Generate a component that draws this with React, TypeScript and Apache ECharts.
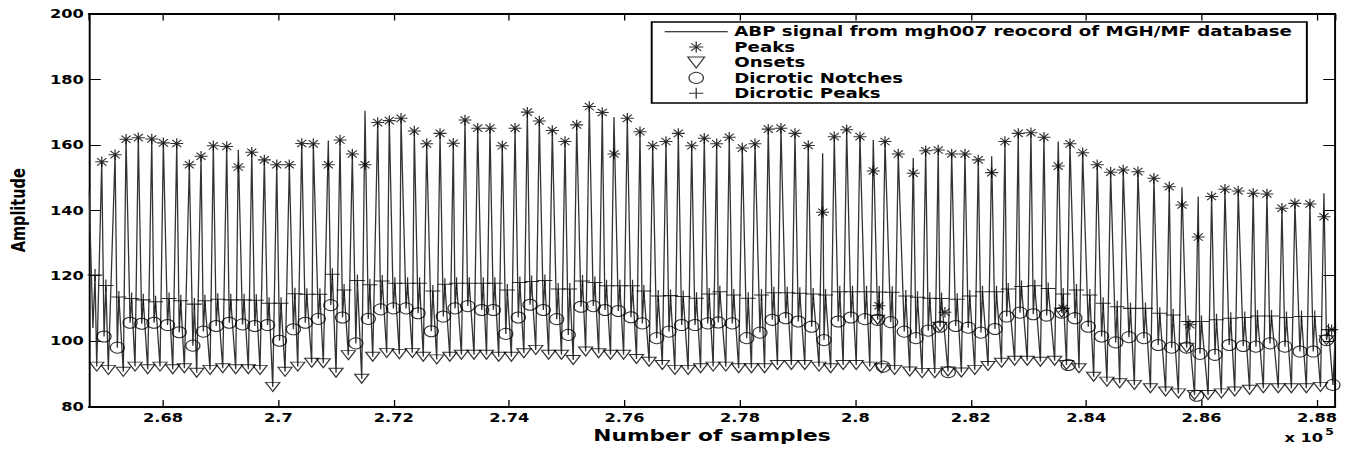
import React, { useEffect, useRef } from "react";
import * as echarts from "echarts";

// ---------------- data (sample index on x, amplitude in mmHg on y) ----------------
const X_MIN = 266718;
const X_MAX = 288312;
const Y_MIN = 80;
const Y_MAX = 200;
const Y_STEP = 20;

const seriesNames = [
  "ABP signal from mgh007 reocord of MGH/MF database",
  "Peaks",
  "Onsets",
  "Dicrotic Notches",
  "Dicrotic Peaks",
];

const onsetSample = [
  266851, 267052, 267312, 267515, 267735, 267948, 268169, 268370, 268584, 268815,
  269035, 269260, 269479, 269681, 269902, 270115, 270335, 270577, 270778, 270999,
  271212, 271444, 271635, 271877, 272096, 272321, 272511, 272744, 272971, 273172,
  273390, 273607, 273818, 274038, 274254, 274460, 274683, 274906, 275110, 275325,
  275551, 275756, 275983, 276206, 276425, 276654, 276871, 277101, 277317, 277535,
  277754, 277977, 278198, 278426, 278649, 278891, 279123, 279370, 279572, 279788,
  280015, 280250, 280451, 280680, 280942, 281156, 281376, 281605, 281837, 282069,
  282299, 282532, 282761, 282979, 283207, 283454, 283659, 283876, 284130, 284360,
  284581, 284835, 285114, 285377, 285598, 285878, 286113, 286343, 286575, 286832,
  287071, 287329, 287557, 287816, 288061,
];
const onsetValue = [
  92.2, 91.2, 90.6, 92.2, 91.4, 92.2, 91.4, 91.7, 90.3, 91.2,
  91.7, 91.4, 91.4, 91.2, 86.0, 90.6, 92.2, 93.4, 93.2, 90.3,
  95.7, 88.5, 95.2, 96.4, 96.0, 96.4, 95.2, 94.4, 95.2, 95.8,
  95.8, 95.8, 95.2, 95.2, 96.3, 97.3, 95.8, 95.8, 94.2, 96.8,
  96.3, 95.8, 95.8, 94.5, 93.7, 92.7, 91.2, 91.2, 91.7, 92.2,
  92.2, 91.7, 91.7, 91.7, 92.7, 92.7, 92.7, 92.2, 91.7, 92.7,
  92.7, 92.2, 91.7, 91.2, 90.7, 90.2, 90.2, 90.7, 90.4, 91.2,
  92.4, 93.4, 94.0, 94.0, 93.7, 94.0, 92.7, 91.7, 89.1, 87.6,
  87.1, 86.6, 85.6, 84.6, 84.0, 83.5, 83.5, 84.0, 84.6, 85.1,
  85.6, 85.6, 85.6, 85.6, 86.0,
];

const peakSample = [
  266938, 267169, 267359, 267572, 267805, 268006, 268238, 268456, 268659, 268872,
  269104, 269305, 269538, 269756, 269971, 270189, 270404, 270605, 270865, 271068,
  271281, 271501, 271721, 271922, 272125, 272355, 272570, 272801, 273031, 273234,
  273454, 273667, 273880, 274101, 274314, 274522, 274747, 274967, 275170, 275388,
  275613, 275816, 276047, 276267, 276487, 276717, 276931, 277163, 277381, 277596,
  277814, 278040, 278260, 278490, 278710, 278953, 279183, 279433, 279634, 279849,
  280079, 280310, 280513, 280743, 281003, 281218, 281436, 281669, 281899, 282130,
  282362, 282592, 282823, 283043, 283268, 283516, 283719, 283939, 284192, 284424,
  284642, 284897, 285174, 285440, 285660, 285942, 286174, 286405, 286635, 286895,
  287133, 287393, 287618, 287878, 288121,
];
// detected peak amplitude (marker)
const peakValue = [
  154.8, 157.0, 161.7, 162.2, 161.8, 160.6, 160.4, 153.9, 156.5, 159.7,
  159.5, 153.2, 157.7, 155.4, 153.9, 153.9, 160.4, 160.3, 153.9, 161.5,
  157.2, 153.9, 166.8, 167.4, 168.1, 164.2, 160.3, 163.5, 160.5, 167.6,
  165.1, 165.1, 159.7, 165.1, 170.0, 167.3, 164.4, 161.0, 166.1, 171.7,
  169.9, 157.2, 168.1, 164.0, 159.7, 161.0, 163.5, 159.7, 162.0, 160.3,
  162.3, 159.0, 160.3, 164.8, 165.1, 163.5, 159.8, 139.4, 162.5, 164.6,
  162.5, 152.0, 161.0, 157.2, 151.3, 158.2, 158.4, 157.2, 157.2, 155.4,
  151.5, 161.0, 163.5, 163.7, 162.3, 153.5, 160.3, 157.6, 153.9, 151.6,
  152.3, 151.8, 149.8, 147.2, 141.6, 131.8, 144.2, 146.4, 145.9, 145.2,
  145.0, 140.6, 142.1, 141.9, 138.0,
];
// true systolic maximum of the signal in each beat
const systolicMax = [
  154.8, 157.0, 161.7, 162.2, 161.8, 160.6, 160.4, 153.9, 156.5, 159.7,
  159.5, 158.5, 157.7, 155.4, 153.9, 153.9, 160.4, 160.3, 161.3, 161.5,
  157.2, 170.4, 166.8, 167.4, 168.1, 164.2, 160.3, 163.5, 160.5, 167.6,
  165.1, 165.1, 159.7, 165.1, 170.0, 167.3, 164.4, 161.0, 166.1, 171.7,
  169.9, 168.5, 168.1, 164.0, 159.7, 161.0, 163.5, 159.7, 162.0, 160.3,
  162.3, 159.0, 160.3, 164.8, 165.1, 163.5, 159.8, 157.4, 162.5, 164.6,
  162.5, 161.5, 161.0, 157.2, 156.0, 158.2, 158.4, 157.2, 157.2, 155.4,
  156.5, 161.0, 163.5, 163.7, 162.3, 161.0, 160.3, 157.6, 153.9, 151.6,
  152.3, 151.8, 149.8, 147.2, 147.0, 144.2, 144.2, 146.4, 145.9, 145.2,
  145.0, 140.6, 142.1, 141.9, 145.2,
];

const notchSample = [
  266978, 267208, 267429, 267631, 267844, 268078, 268281, 268517, 268699, 268922,
  269148, 269378, 269590, 269811, 270019, 270259, 270466, 270692, 270908, 271111,
  271342, 271558, 271773, 271992, 272212, 272420, 272650, 272858, 273061, 273281,
  273524, 273725, 273941, 274158, 274361, 274591, 274823, 275024, 275244, 275458,
  275660, 275891, 276111, 276307, 276556, 276769, 276989, 277220, 277440, 277624,
  277866, 278116, 278346, 278560, 278792, 279010, 279242, 279456, 279703, 279923,
  280166, 280386, 280611, 280847, 281050, 281263, 281466, 281738, 281956, 282176,
  282419, 282622, 282852, 283083, 283315, 283575, 283805, 284036, 284268, 284511,
  284741, 285001, 285249, 285481, 285741, 285972, 286232, 286479, 286722, 286942,
  287185, 287445, 287705, 287935, 288165,
];
const notchValue = [
  101.4, 98.0, 105.6, 105.3, 105.6, 104.9, 102.7, 98.6, 102.9, 104.6,
  105.6, 105.1, 104.6, 104.9, 100.1, 103.6, 105.6, 106.8, 111.0, 107.2,
  99.3, 106.8, 109.7, 110.0, 110.0, 108.5, 103.0, 107.5, 110.0, 110.7,
  109.5, 109.5, 102.2, 107.2, 111.1, 109.5, 106.7, 101.9, 110.5, 110.7,
  109.5, 109.2, 107.3, 105.4, 100.9, 102.9, 104.9, 104.9, 105.4, 105.7,
  105.4, 100.9, 102.6, 106.5, 107.0, 106.0, 104.4, 100.3, 106.0, 107.2,
  106.7, 106.5, 105.8, 102.9, 100.9, 103.2, 104.4, 104.6, 104.1, 102.6,
  103.7, 107.5, 108.7, 108.2, 107.8, 108.7, 107.0, 104.4, 101.4, 99.6,
  101.2, 100.9, 98.8, 98.0, 98.0, 96.1, 95.8, 98.8, 98.5, 98.3,
  99.3, 98.3, 96.8, 96.8, 100.3,
];

const dicroticSample = [
  267010, 267235, 267456, 267658, 267871, 268105, 268308, 268544, 268726, 268949,
  269175, 269405, 269617, 269838, 270046, 270286, 270493, 270719, 270935, 271138,
  271369, 271585, 271800, 272019, 272239, 272447, 272677, 272885, 273088, 273308,
  273551, 273752, 273968, 274185, 274388, 274618, 274850, 275051, 275271, 275485,
  275687, 275918, 276138, 276334, 276583, 276796, 277016, 277247, 277467, 277651,
  277893, 278143, 278373, 278587, 278819, 279037, 279269, 279483, 279730, 279950,
  280193, 280413, 280638, 280874, 281077, 281290, 281493, 281765, 281983, 282203,
  282446, 282649, 282879, 283110, 283342, 283602, 283832, 284063, 284295, 284538,
  284768, 285028, 285276, 285508, 285768, 285999, 286259, 286506, 286749, 286969,
  287212, 287472, 287732, 287962, 288200,
];
const dicroticValue = [
  117.0, 113.5, 113.0, 112.6, 112.0, 113.0, 112.3, 111.3, 112.3, 112.8,
  112.6, 112.6, 112.5, 111.6, 111.6, 114.5, 114.3, 114.3, 120.4, 115.6,
  118.5, 117.2, 118.4, 117.7, 117.7, 117.7, 115.3, 117.4, 117.7, 117.7,
  117.7, 117.7, 115.6, 117.9, 118.2, 118.5, 115.9, 115.9, 118.4, 117.9,
  116.9, 116.9, 116.9, 115.3, 113.8, 113.9, 113.6, 113.1, 114.4, 115.1,
  114.1, 113.1, 114.1, 114.8, 114.8, 114.6, 114.4, 114.1, 115.1, 115.1,
  115.1, 115.0, 114.9, 113.8, 113.4, 113.1, 113.0, 112.8, 113.8, 115.1,
  115.1, 115.9, 116.7, 116.9, 116.1, 114.4, 115.6, 114.1, 111.6, 110.5,
  110.0, 110.0, 108.5, 108.0, 106.0, 106.0, 106.5, 107.0, 107.2, 107.7,
  107.7, 107.2, 107.5, 107.5, 103.5,
];

// partial beat at the left edge, and the tail at the right edge
const leadSignal = [
  [266718, 146.0],
  [266785, 104.0],
];
const leadDicrotic = [266822, 120.2];
const trailSignal = [
  [288277, 86.6],
  [288312, 100.0],
];

// spurious detections (dicrotic wave taken as a beat)
const extraOnsetSample = [280386, 281466, 283575, 285741, 288165];
const extraOnsetValue = [106.5, 104.4, 108.7, 98.0, 100.3];
const extraPeakSample = [280408, 281552, 283600, 285798, 288254];
const extraPeakValue = [110.8, 108.8, 110.0, 105.0, 103.5];
const extraNotchSample = [280483, 281610, 283689, 285914, 288277];
const extraNotchValue = [92.2, 90.5, 92.7, 83.3, 86.6];

// ---------------- layout ----------------
const PAGE_W = 1352;
const PAGE_H = 451;
const STRETCH = 1.3;
const CHART_W = PAGE_W / STRETCH;
const FONT = "DejaVu Sans";

const ASTERISK = "path://M0,5L10,5M5,0L5,10M1.5,1.5L8.5,8.5M8.5,1.5L1.5,8.5";
const PLUS = "path://M0,5L10,5M5,0L5,10";
const DOWN_TRIANGLE = "path://M0,0L10,0L5,8.5Z";
const LINE_ICON = "path://M0,0L48,0L48,1L0,1Z";

const zip = (xs: number[], ys: number[]) => xs.map((x, i) => [x, ys[i]]);

export default function App() {
  const ref = useRef<HTMLDivElement>(null);

  useEffect(() => {
    document.body.style.margin = "0";
    const chart = echarts.init(ref.current as HTMLDivElement, null, { renderer: "svg" });

    const signal: number[][] = [...leadSignal, leadDicrotic];
    for (let i = 0; i < onsetSample.length; i++) {
      signal.push(
        [onsetSample[i], onsetValue[i]],
        [peakSample[i], systolicMax[i]],
        [notchSample[i], notchValue[i]],
        [dicroticSample[i], dicroticValue[i]]
      );
    }
    signal.push(...trailSignal);

    const peaks = [...zip(peakSample, peakValue), ...zip(extraPeakSample, extraPeakValue)];
    const onsets = [...zip(onsetSample, onsetValue), ...zip(extraOnsetSample, extraOnsetValue)];
    const notches = [...zip(notchSample, notchValue), ...zip(extraNotchSample, extraNotchValue)];
    const dicrotics = [leadDicrotic, ...zip(dicroticSample, dicroticValue)];

    const markerStyle = { color: "rgba(0,0,0,0)", borderColor: "#000", borderWidth: 1 };
    const fmt = (v: number) => String(parseFloat((v / 1e5).toFixed(2)));

    const xCommon = {
      type: "value" as const,
      min: X_MIN,
      max: X_MAX,
      splitNumber: 11,
      splitLine: { show: false },
      axisLine: { show: true, lineStyle: { color: "#000", width: 2 } },
      axisTick: { show: true, inside: true, length: 6.5, lineStyle: { color: "#000", width: 1 } },
    };
    const yCommon = {
      type: "value" as const,
      min: Y_MIN,
      max: Y_MAX,
      interval: Y_STEP,
      splitLine: { show: false },
      axisLine: { show: true, lineStyle: { color: "#000", width: 1.5 } },
      axisTick: { show: true, inside: true, length: 9, lineStyle: { color: "#000", width: 1 } },
    };

    chart.setOption({
      animation: false,
      backgroundColor: "#fff",
      grid: { left: 68.5, right: 13.1, top: 14, bottom: 44.5, containLabel: false, outerBoundsMode: "none" },
      xAxis: [
        {
          ...xCommon,
          position: "bottom",
          name: "Number of samples",
          nameLocation: "middle",
          nameGap: 20.5,
          nameMoveOverlap: false,
          nameTextStyle: { fontFamily: FONT, fontWeight: "bold", fontSize: 16.7, color: "#000" },
          axisLabel: {
            show: true,
            margin: 5,
            formatter: fmt,
            showMinLabel: false,
            showMaxLabel: false,
            fontFamily: FONT,
            fontWeight: "bold",
            fontSize: 12.5,
            color: "#000",
          },
        },
        { ...xCommon, position: "top", axisLabel: { show: false } },
      ],
      yAxis: [
        {
          ...yCommon,
          position: "left",
          name: "Amplitude",
          nameLocation: "middle",
          nameRotate: 90,
          nameGap: 47,
          nameMoveOverlap: false,
          nameTextStyle: { fontFamily: FONT, fontWeight: "bold", fontSize: 14.5, color: "#000" },
          axisLabel: { show: true, margin: 4, fontFamily: FONT, fontWeight: "bold", fontSize: 12.5, color: "#000" },
        },
        { ...yCommon, position: "right", axisLabel: { show: false } },
      ],
      legend: {
        orient: "vertical",
        left: 501.3,
        top: 22,
        padding: [2, 11, 2, 10],
        itemGap: 0,
        itemWidth: 48.5,
        itemHeight: 11,
        backgroundColor: "#fff",
        borderColor: "#000",
        borderWidth: 1.5,
        borderRadius: 0,
        selectedMode: false,
        itemStyle: { borderWidth: 1 },
        textStyle: { fontFamily: FONT, fontWeight: "bold", fontSize: 14, color: "#000", lineHeight: 15.4 },
        data: [
          { name: seriesNames[0], icon: LINE_ICON, itemStyle: { color: "#000", borderWidth: 0 } },
          seriesNames[1],
          { name: seriesNames[2], icon: DOWN_TRIANGLE },
          seriesNames[3],
          seriesNames[4],
        ],
      },
      graphic: [
        {
          type: "text",
          x: 988,
          y: 438,
          style: { text: "x 10", font: `bold 12.5px "${FONT}"`, fill: "#000", verticalAlign: "middle", align: "left" },
        },
        {
          type: "text",
          x: 1019.5,
          y: 432,
          style: { text: "5", font: `bold 9.5px "${FONT}"`, fill: "#000", verticalAlign: "middle", align: "left" },
        },
      ],
      series: [
        {
          name: seriesNames[0],
          type: "line",
          data: signal,
          showSymbol: false,
          symbol: "none",
          silent: true,
          clip: true,
          lineStyle: { color: "#333", width: 1 },
          itemStyle: { color: "#333" },
          z: 2,
        },
        {
          name: seriesNames[1],
          type: "scatter",
          data: peaks,
          symbol: ASTERISK,
          symbolSize: [10, 10.5],
          itemStyle: markerStyle,
          silent: true,
          z: 3,
        },
        {
          name: seriesNames[2],
          type: "scatter",
          data: onsets,
          symbol: "triangle",
          symbolRotate: 180,
          symbolSize: [10.8, 9],
          itemStyle: markerStyle,
          silent: true,
          z: 3,
        },
        {
          name: seriesNames[3],
          type: "scatter",
          data: notches,
          symbol: "circle",
          symbolSize: [10.8, 11],
          itemStyle: markerStyle,
          silent: true,
          z: 3,
        },
        {
          name: seriesNames[4],
          type: "scatter",
          data: dicrotics,
          symbol: PLUS,
          symbolSize: [11.5, 12],
          itemStyle: markerStyle,
          silent: true,
          z: 3,
        },
      ],
    });

    return () => chart.dispose();
  }, []);

  return (
    <div
      style={{
        position: "absolute",
        left: 0,
        top: 0,
        width: PAGE_W,
        height: PAGE_H,
        overflow: "hidden",
        background: "#fff",
      }}
    >
      <div
        ref={ref}
        style={{ width: CHART_W, height: PAGE_H, transform: `scaleX(${STRETCH})`, transformOrigin: "0 0" }}
      />
    </div>
  );
}
